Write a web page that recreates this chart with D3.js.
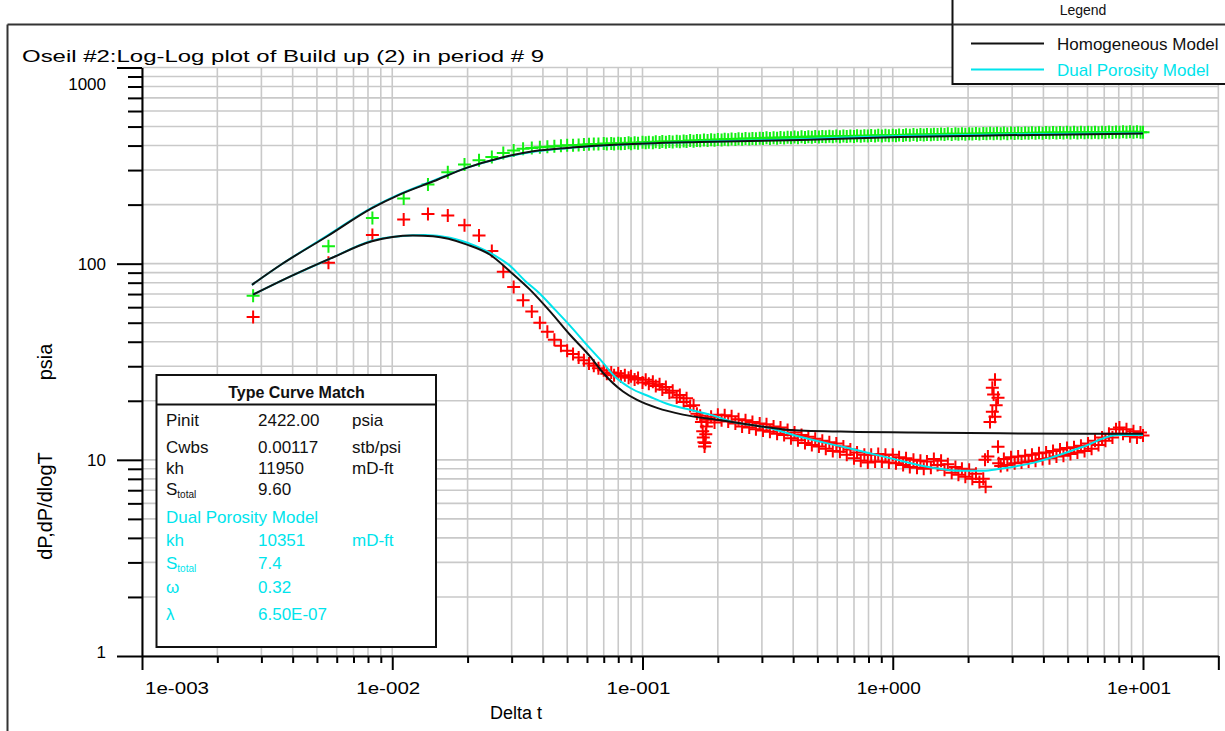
<!DOCTYPE html>
<html><head><meta charset="utf-8">
<script src="https://cdn.jsdelivr.net/npm/d3@7"></script>
<style>html,body{margin:0;padding:0;background:#fff;overflow:hidden}svg{display:block}</style>
</head><body>
<svg id="chart" width="1225" height="731"></svg>
<script>
// ---------------- data ----------------
const chartTitle = "Oseil #2:Log-Log plot of Build up (2) in period # 9";
const xAxisTitle = "Delta t";
const yAxisTitle = "dP,dP/dlogT";
const yAxisUnit = "psia";
const xTickValues = [1e-3, 1e-2, 1e-1, 1, 10];
const xTickLabels = ["1e-003", "1e-002", "1e-001", "1e+000", "1e+001"];
const yTickValues = [1, 10, 100, 1000];
const yTickLabels = ["1", "10", "100", "1000"];
const legendTitle = "Legend";
const legendItems = ["Homogeneous Model", "Dual Porosity Model"];

// pressure change (green +)
const pressureData = [
 [0.00278,68.7],[0.00556,122.6],[0.00833,171],[0.01111,214.6],[0.01389,253],[0.01667,292],[0.01944,320],
 [0.02222,336.5],[0.025,350],[0.02778,367],[0.03056,378],[0.03333,385],[0.03611,389],[0.03889,392],
 [0.04167,395],[0.04444,397],[0.04722,399],[0.05,401],[0.05278,402],[0.05556,403],[0.05833,405],
 [0.06111,406],[0.06389,407],[0.06667,407],
 [0.07,410],[0.072,407],[0.075,410],[0.077,407],[0.08,411],[0.082,409],[0.085,410],[0.088,413],[0.09,409],
 [0.093,413],[0.096,411],[0.1,416],[0.103,413],[0.106,416],[0.11,414],[0.113,418],[0.117,415],[0.12,419],
 [0.124,416],[0.128,420],[0.132,417],[0.137,421],[0.141,418],[0.146,422],[0.15,420],[0.155,424],[0.16,421],
 [0.165,425],[0.17,423],[0.176,427],[0.182,424],[0.188,428],[0.194,426],[0.2,430],[0.207,427],[0.213,431],
 [0.22,428],[0.227,432],[0.235,430],[0.242,433],[0.25,431],[0.258,434],[0.267,432],[0.275,435],[0.284,433],
 [0.294,436],[0.303,434],[0.313,438],[0.323,435],[0.334,439],[0.345,436],[0.356,440],[0.368,437],[0.38,441],
 [0.392,438],[0.405,442],[0.418,439],[0.432,443],[0.446,440],[0.46,444],[0.475,441],[0.49,445],[0.507,442],
 [0.523,445],[0.54,443],[0.558,446],[0.576,443],[0.595,447],[0.615,444],[0.635,447],[0.655,445],[0.677,448],
 [0.7,445],[0.72,449],[0.745,446],[0.77,449],[0.795,447],[0.82,450],[0.85,447],[0.875,451],[0.905,448],
 [0.935,451],[0.965,449],[1.0,452],[1.03,449],[1.06,453],[1.1,450],[1.13,454],[1.17,451],[1.21,455],
 [1.25,452],[1.29,456],[1.33,453],[1.37,456],[1.42,454],[1.46,457],[1.51,455],[1.56,458],[1.61,456],
 [1.66,459],[1.72,456],[1.78,459],[1.83,457],[1.89,460],[1.95,457],[2.02,460],[2.08,458],[2.15,461],
 [2.22,458],[2.3,461],[2.37,459],[2.45,462],[2.53,459],[2.61,462],[2.7,460],[2.78,463],[2.87,460],
 [2.97,463],[3.07,461],[3.17,464],[3.27,461],[3.38,464],[3.49,462],[3.6,465],[3.72,462],[3.84,465],
 [3.97,462],[4.1,466],[4.23,463],[4.37,466],[4.51,463],[4.66,466],[4.81,464],[4.97,467],[5.13,464],
 [5.3,467],[5.47,464],[5.65,467],[5.84,465],[6.03,468],[6.23,465],[6.43,468],[6.64,465],[6.86,468],
 [7.08,466],[7.31,469],[7.55,466],[7.8,469],[8.05,467],[8.32,470],[8.59,467],[8.87,470],[9.16,467],
 [9.46,470],[9.77,468],[10.0,468]
];

// pressure derivative (red +)
const derivativeData = [
 [0.00278,53.5],[0.00556,101],[0.00833,140],[0.01111,168],[0.01389,179],[0.01667,176],[0.01944,157],
 [0.02222,139],[0.025,116],[0.02778,91],[0.03056,76],[0.03333,65],[0.03611,57],[0.03889,50],[0.04167,45],
 [0.04444,41],[0.04722,38.2],[0.05,36],[0.05278,34.6],[0.05556,33.2],[0.05833,32.2],[0.06111,31.0],
 [0.06389,30.2],[0.06667,29.3],
 [0.07,28.6],[0.072,27.5],[0.075,27.9],[0.077,27.0],[0.08,27.6],[0.082,26.6],[0.085,27.0],[0.088,26.2],
 [0.09,26.7],[0.093,25.7],[0.096,26.1],[0.1,24.8],[0.103,25.6],[0.106,24.4],[0.11,25.0],[0.113,23.8],
 [0.117,24.3],[0.12,22.8],[0.124,23.5],[0.128,22.0],[0.132,22.5],[0.137,20.8],[0.141,21.4],[0.146,19.7],
 [0.15,20.6],[0.155,18.8],[0.16,19.0],[0.165,17.2],
 [0.17,16.8],[0.172,15.6],[0.174,14.0],[0.175,13.0],[0.176,12.3],[0.177,11.7],[0.178,12.2],[0.179,13.5],
 [0.18,14.8],[0.182,16.0],
 [0.188,16.6],[0.194,15.5],[0.2,17.0],[0.207,15.9],[0.213,16.9],[0.22,15.7],[0.227,16.7],[0.235,15.3],
 [0.242,16.1],[0.25,14.8],[0.258,15.9],[0.267,14.6],[0.275,15.6],[0.284,14.3],[0.294,15.3],[0.303,14.1],
 [0.313,15.2],[0.323,13.9],[0.334,14.8],[0.345,13.6],[0.356,14.6],[0.368,13.4],[0.38,14.2],[0.392,12.9],
 [0.405,13.8],[0.418,12.6],[0.432,13.4],[0.446,12.2],[0.46,13.1],[0.475,11.9],[0.49,12.8],[0.507,11.7],
 [0.523,12.5],[0.54,11.4],[0.558,12.3],[0.576,11.1],[0.595,12.1],[0.615,11.0],[0.635,11.7],[0.655,10.6],
 [0.677,11.3],[0.7,10.2],[0.72,10.9],[0.745,9.9],[0.77,10.6],[0.795,9.7],[0.82,10.6],[0.85,9.8],
 [0.875,10.7],[0.905,9.8],[0.935,10.6],[0.965,9.7],[1.0,10.6],[1.03,9.6],[1.06,10.3],[1.1,9.4],
 [1.13,10.2],[1.17,9.2],[1.21,10.0],[1.25,9.1],[1.29,9.9],[1.33,9.0],[1.37,9.8],[1.42,9.1],[1.46,10.1],
 [1.51,9.4],[1.56,9.9],[1.61,8.9],[1.66,9.5],[1.72,8.6],[1.78,9.2],[1.83,8.4],[1.89,9.0],[1.95,8.2],
 [2.02,8.9],[2.08,8.0],[2.15,8.5],[2.22,7.7],[2.3,8.0],[2.35,7.3],
 [2.337,10.0],[2.40,10.4],[2.634,11.65],[2.447,15.6],[2.562,16.6],[2.50,17.6],[2.59,19.0],[2.634,20.7],
 [2.53,21.5],[2.50,23.3],[2.562,25.6],
 [2.65,9.6],[2.7,9.3],[2.78,10.1],[2.87,9.4],[2.97,10.3],[3.07,9.6],[3.17,10.4],[3.27,9.7],[3.38,10.5],
 [3.49,9.8],[3.6,10.6],[3.72,9.9],[3.84,10.8],[3.97,10.1],[4.1,10.9],[4.23,10.2],[4.37,11.1],[4.51,10.4],
 [4.66,11.3],[4.81,10.5],[4.97,11.5],[5.13,10.7],[5.3,11.6],[5.47,10.9],[5.65,11.8],[5.84,11.1],
 [6.03,12.1],[6.23,11.4],[6.43,12.5],[6.64,11.9],[6.86,13.0],[7.08,12.5],[7.31,13.6],[7.55,13.0],
 [7.8,14.3],[8.05,14.6],[8.32,13.6],[8.59,14.3],[8.87,13.2],[9.16,14.0],[9.46,13.0],[9.77,13.8],[10.0,13.3]
];

// homogeneous model (black)
const homPressure = [
 [0.00275,78],[0.0036,99],[0.0055,138],[0.0083,192],[0.0107,225],[0.0146,263],[0.0198,308],[0.027,346],
 [0.0366,374],[0.05,389],[0.068,400],[0.104,410],[0.17,417],[0.43,427],[1.07,442],[2.7,451],[10,461]
];
const homDerivative = [
 [0.00278,69.5],[0.0039,85.8],[0.00564,106],[0.0083,130],[0.0121,139],[0.01455,137.8],[0.0199,125],
 [0.0246,111],[0.02954,91.3],[0.0355,73.7],[0.0427,57.1],[0.0513,43.4],[0.0617,33.7],[0.0695,27.8],
 [0.0836,22.3],[0.0951,20.2],[0.1143,18.4],[0.1451,17.0],[0.1985,16.0],[0.2689,15.1],[0.3885,14.2],
 [0.675,13.9],[1.194,13.8],[2.683,13.65],[10,13.57]
];
// dual porosity model (cyan)
const dualPressure = [
 [0.00275,78],[0.0036,99],[0.0055,139],[0.0083,193],[0.0107,226],[0.0146,265],[0.0198,308],[0.027,345],
 [0.0366,372],[0.05,388],[0.068,399],[0.104,410],[0.17,418],[0.43,431],[0.6,438],[1.07,447],[2.7,456],[10,462]
];
const dualDerivative = [
 [0.00278,69.5],[0.0039,85.8],[0.00564,106],[0.0083,131],[0.01074,138],[0.01352,139.8],[0.017,135.7],
 [0.0214,123.6],[0.02574,109.9],[0.02954,97.7],[0.0339,81.9],[0.0389,70.3],[0.0447,58.3],[0.0513,48.3],
 [0.0589,39.5],[0.0677,32.5],[0.0777,26.5],[0.0891,23.3],[0.1072,20.96],[0.1288,19.08],[0.1548,18.0],
 [0.1861,17.0],[0.2299,15.6],[0.3144,14.6],[0.426,13.1],[0.633,11.65],[0.975,10.2],[1.448,9.1],
 [1.857,8.79],[2.294,8.79],[2.683,9.0],[3.635,9.65],[5.76,11.65],[7.87,13.4],[10,13.4]
];

// type curve match table
const matchTitle = "Type Curve Match";
const homRows = [["Pinit","","2422.00","psia"],["Cwbs","","0.00117","stb/psi"],["kh","","11950","mD-ft"],["S","total","9.60",""]];
const dualTitle = "Dual Porosity Model";
const dualRows = [["kh","","10351","mD-ft"],["S","total","7.4",""],["\u03C9","","0.32",""],["\u03BB","","6.50E-07",""]];

// ---------------- drawing ----------------
const BLACK = "#111", CYAN = "#00e4ec", GREEN = "#12f012", RED = "#ff0000", GRID = "#c9c9c9";
const FONT = "'Liberation Sans', Arial, Helvetica, sans-serif";
const svg = d3.select("#chart");

const x = d3.scaleLog().domain([1e-3, 20]).range([142, 142 + 250.25 * Math.log10(20000)]);
const y = d3.scaleLog().domain([1, 1000]).range([656, 67.5]);

// outer frame
svg.append("line").attr("x1", 7.5).attr("y1", 24.5).attr("x2", 1225).attr("y2", 24.5).attr("stroke", "#333").attr("stroke-width", 2);
svg.append("line").attr("x1", 7.5).attr("y1", 24.5).attr("x2", 7.5).attr("y2", 731).attr("stroke", "#333").attr("stroke-width", 2);

// grid values
const gridX = [], gridY = [];
for (let k = -3; k <= 1; k++) for (let m = 1; m <= 9; m++) { const v = +(m * Math.pow(10, k)).toPrecision(6); if (v <= 20) gridX.push(v); }
for (let k = 0; k <= 2; k++) for (let m = 1; m <= 9; m++) gridY.push(+(m * Math.pow(10, k)).toPrecision(6));
gridY.push(1000);
const majorX = xTickValues.concat([20]);
const minorX = gridX.filter(v => !majorX.includes(v));
const minorY = gridY.filter(v => !yTickValues.includes(v));

const grid = svg.append("g");
grid.selectAll("line.gx").data(gridX).join("line").attr("class", "gx")
  .attr("x1", d => x(d)).attr("x2", d => x(d)).attr("y1", y(1000)).attr("y2", y(1))
  .attr("stroke", GRID).attr("stroke-width", 1.6);
grid.selectAll("line.gy").data(gridY).join("line").attr("class", "gy")
  .attr("x1", x(1e-3)).attr("x2", x(20)).attr("y1", d => y(d)).attr("y2", d => y(d))
  .attr("stroke", GRID).attr("stroke-width", 1.6);

// axes
function styleAxis(g) {
  g.selectAll(".domain").attr("stroke", "#000").attr("stroke-width", 2);
  g.selectAll(".tick line").attr("stroke", "#000").attr("stroke-width", 2);
  g.selectAll(".tick text").remove();
}
svg.append("g").attr("transform", "translate(0,656)")
  .call(d3.axisBottom(x).tickValues(minorX).tickSize(7).tickSizeOuter(0).tickFormat(""))
  .call(g => g.select(".domain").remove()).call(styleAxis);
svg.append("g").attr("transform", "translate(0,656)")
  .call(d3.axisBottom(x).tickValues(majorX).tickSize(14).tickSizeOuter(0).tickFormat(""))
  .call(styleAxis);
svg.append("g").attr("transform", "translate(142,0)")
  .call(d3.axisLeft(y).tickValues(minorY).tickSize(14).tickSizeOuter(0).tickFormat(""))
  .call(g => g.select(".domain").remove()).call(styleAxis);
svg.append("g").attr("transform", "translate(142,0)")
  .call(d3.axisLeft(y).tickValues(yTickValues).tickSize(25).tickSizeOuter(0).tickFormat(""))
  .call(styleAxis);

// tick labels
svg.append("g").selectAll("text").data(xTickValues).join("text")
  .attr("x", (d, i) => i === 0 ? x(d) + 3 : x(d) - 4)
  .attr("y", 694)
  .attr("text-anchor", (d, i) => i === 0 ? "start" : "middle")
  .attr("font-family", FONT).attr("font-size", 17).attr("fill", "#000")
  .attr("textLength", 64).attr("lengthAdjust", "spacingAndGlyphs")
  .text((d, i) => xTickLabels[i]);
svg.append("g").selectAll("text").data(yTickValues).join("text")
  .attr("x", 106)
  .attr("y", (d, i) => i === 0 ? y(d) + 2 : (i === 3 ? y(d) + 22 : y(d) + 6))
  .attr("text-anchor", "end")
  .attr("font-family", FONT).attr("font-size", 17).attr("fill", "#000")
  .text((d, i) => yTickLabels[i]);

// axis titles
svg.append("text").attr("x", 516).attr("y", 719).attr("text-anchor", "middle")
  .attr("font-family", FONT).attr("font-size", 18).attr("fill", "#000").text(xAxisTitle);
svg.append("text").attr("transform", "translate(52,506) rotate(-90)").attr("text-anchor", "middle")
  .attr("font-family", FONT).attr("font-size", 20).attr("fill", "#000").text(yAxisTitle);
svg.append("text").attr("transform", "translate(52,362) rotate(-90)").attr("text-anchor", "middle")
  .attr("font-family", FONT).attr("font-size", 20).attr("fill", "#000").text(yAxisUnit);

// title
svg.append("text").attr("x", 22).attr("y", 62).attr("font-family", FONT).attr("font-size", 17)
  .attr("fill", "#000").attr("textLength", 522).attr("lengthAdjust", "spacingAndGlyphs").text(chartTitle);

// markers
const plus = "M-6.5,0H6.5M0,-6.5V6.5";
svg.append("g").selectAll("path").data(pressureData).join("path")
  .attr("d", plus).attr("transform", d => `translate(${x(d[0])},${y(d[1])})`)
  .attr("stroke", GREEN).attr("stroke-width", 2).attr("fill", "none");
svg.append("g").selectAll("path").data(derivativeData).join("path")
  .attr("d", plus).attr("transform", d => `translate(${x(d[0])},${y(d[1])})`)
  .attr("stroke", RED).attr("stroke-width", 2).attr("fill", "none");

// model curves
const line = d3.line().x(d => x(d[0])).y(d => y(d[1])).curve(d3.curveMonotoneX);
[[dualPressure, CYAN], [dualDerivative, CYAN], [homPressure, BLACK], [homDerivative, BLACK]].forEach(([data, c]) => {
  svg.append("path").datum(data).attr("d", line).attr("fill", "none").attr("stroke", c).attr("stroke-width", 2);
});

// type curve match box
const box = svg.append("g");
box.append("rect").attr("x", 156.5).attr("y", 375).attr("width", 279.5).attr("height", 272)
  .attr("fill", "#fff").attr("stroke", BLACK).attr("stroke-width", 2);
box.append("line").attr("x1", 156.5).attr("x2", 436).attr("y1", 404.5).attr("y2", 404.5).attr("stroke", BLACK).attr("stroke-width", 2);
box.append("text").attr("x", 296.5).attr("y", 398).attr("text-anchor", "middle").attr("font-family", FONT)
  .attr("font-size", 16).attr("font-weight", "bold").attr("fill", BLACK).text(matchTitle);
function drawRow(r, yb, color) {
  const t = box.append("text").attr("x", 166).attr("y", yb).attr("font-family", FONT).attr("font-size", 17).attr("fill", color);
  t.append("tspan").text(r[0]);
  if (r[1]) t.append("tspan").attr("font-size", 10).attr("dy", 3).text(r[1]);
  box.append("text").attr("x", 258).attr("y", yb).attr("font-family", FONT).attr("font-size", 17).attr("fill", color).text(r[2]);
  if (r[3]) box.append("text").attr("x", 352).attr("y", yb).attr("font-family", FONT).attr("font-size", 17).attr("fill", color).text(r[3]);
}
const homY = [426, 452.5, 474, 495];
homRows.forEach((r, i) => drawRow(r, homY[i], BLACK));
box.append("text").attr("x", 166).attr("y", 523).attr("font-family", FONT).attr("font-size", 17).attr("fill", CYAN).text(dualTitle);
const dualY = [546, 569, 593, 620];
dualRows.forEach((r, i) => drawRow(r, dualY[i], CYAN));

// legend
const lg = svg.append("g");
lg.append("rect").attr("x", 952.5).attr("y", -3).attr("width", 280).attr("height", 87)
  .attr("fill", "#fff").attr("stroke", BLACK).attr("stroke-width", 2);
lg.append("line").attr("x1", 952.5).attr("x2", 1225).attr("y1", 24.5).attr("y2", 24.5).attr("stroke", "#333").attr("stroke-width", 2);
lg.append("text").attr("x", 1083).attr("y", 15).attr("text-anchor", "middle").attr("font-family", FONT)
  .attr("font-size", 14).attr("fill", BLACK).text(legendTitle);
const legendColors = [BLACK, CYAN];
legendItems.forEach((name, i) => {
  const yy = 43.5 + i * 26;
  lg.append("line").attr("x1", 971).attr("x2", 1044).attr("y1", yy).attr("y2", yy).attr("stroke", legendColors[i]).attr("stroke-width", 2);
  lg.append("text").attr("x", 1057).attr("y", yy + 6).attr("font-family", FONT).attr("font-size", 17)
    .attr("fill", legendColors[i]).text(name);
});
</script>
</body></html>
